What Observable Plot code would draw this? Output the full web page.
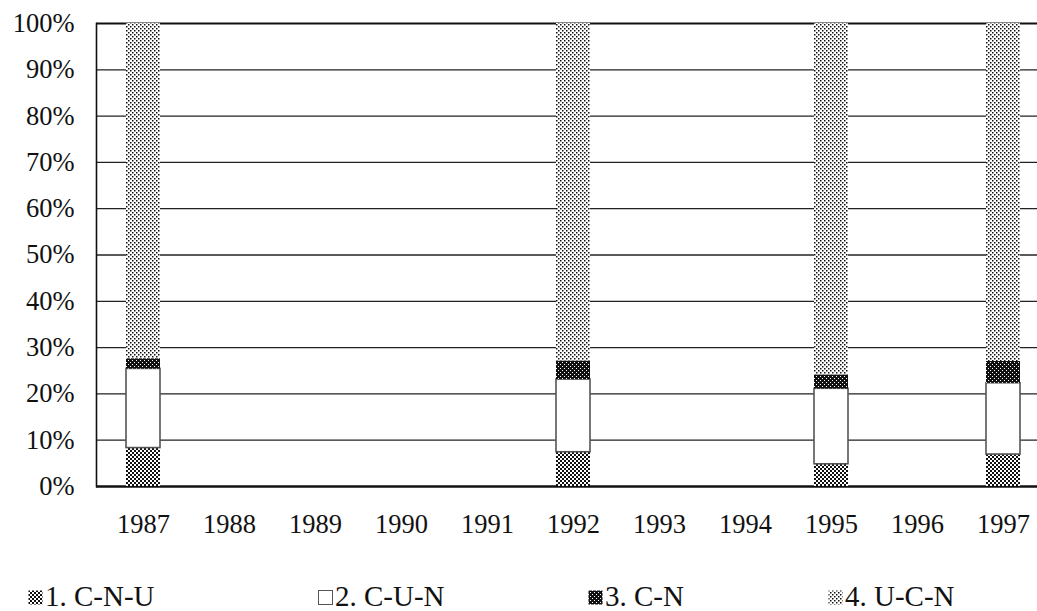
<!DOCTYPE html>
<html>
<head>
<meta charset="utf-8">
<script src="https://cdn.jsdelivr.net/npm/d3@7"></script>
<script src="https://cdn.jsdelivr.net/npm/@observablehq/plot@0.6"></script>
<style>
  html, body { margin: 0; padding: 0; background: white; overflow: hidden; }
  #wrap { position: relative; width: 1037px; height: 611px; font-family: "Liberation Serif", "Times New Roman", serif; }
  .leg { position: absolute; top: 581px; height: 30px; font-size: 29px; line-height: 30px; white-space: nowrap; color: #111; }
  .leg svg { position: absolute; left: 0; top: 9px; }
  .leg span { position: absolute; left: 17px; top: 0; }
</style>
</head>
<body>
<svg width="0" height="0" style="position:absolute">
  <defs>
    <pattern id="p1" width="4" height="4" patternUnits="userSpaceOnUse">
      <rect width="4" height="4" fill="white"/>
      <rect width="2" height="2" fill="#111"/>
      <rect x="2" y="2" width="2" height="2" fill="#111"/>
    </pattern>
    <pattern id="p2" width="4" height="4" patternUnits="userSpaceOnUse">
      <rect width="4" height="4" fill="white"/>
    </pattern>
    <pattern id="p3" width="4" height="4" patternUnits="userSpaceOnUse">
      <rect width="4" height="4" fill="#111"/>
      <rect width="1" height="1" fill="white"/>
      <rect x="2" y="2" width="1" height="1" fill="white"/>
    </pattern>
    <pattern id="p4" width="4" height="4" patternUnits="userSpaceOnUse">
      <rect width="4" height="4" fill="white"/>
      <rect width="1.5" height="1.5" fill="#111"/>
      <rect x="2" y="2" width="1.5" height="1.5" fill="#111"/>
    </pattern>
  </defs>
</svg>
<div id="wrap"></div>
<script>
// ---- data ----
const years = ["1987","1988","1989","1990","1991","1992","1993","1994","1995","1996","1997"];
const dataYears = ["1987","1992","1995","1997"];
const seriesNames = ["1. C-N-U","2. C-U-N","3. C-N","4. U-C-N"];
const cnu = [8.3, 7.4, 4.8, 6.9];
const cun = [17.1, 15.7, 16.3, 15.4];
const cn  = [2.2, 4.0, 3.0, 4.7];
const ucn = [72.4, 72.9, 75.9, 73.0];
const yTickValues = [0,10,20,30,40,50,60,70,80,90,100];

const seriesValues = [cnu, cun, cn, ucn];
const patterns = ["url(#p1)", "url(#p2)", "url(#p3)", "url(#p4)"];

// stacked table
const rows = [];
dataYears.forEach((yr, i) => {
  let acc = 0;
  seriesValues.forEach((vals, s) => {
    rows.push({year: yr, series: seriesNames[s], s, y1: acc, y2: acc + vals[i]});
    acc += vals[i];
  });
});

const barMarks = seriesNames.map((name, s) =>
  Plot.barY(rows.filter(r => r.s === s), {
    x: "year", y1: "y1", y2: "y2",
    fill: patterns[s],
    stroke: s === 1 ? "#555" : "none",
    strokeWidth: s === 1 ? 1.6 : 0
  })
);

const chart = Plot.plot({
  width: 1037,
  height: 545,
  marginLeft: 96,
  marginRight: -14,
  marginTop: 23,
  marginBottom: 59,
  style: {fontFamily: "Liberation Serif, Times New Roman, serif", fontSize: "26.5px", color: "#111", background: "white", overflow: "visible"},
  x: {domain: years, paddingInner: 0.6, paddingOuter: 0.3, label: null, tickSize: 0, tickPadding: 28},
  y: {domain: [0, 100], label: null, ticks: yTickValues, tickFormat: d => d + "%", tickSize: 0, tickPadding: 22},
  marks: [
    Plot.ruleY(yTickValues.slice(1, -1), {stroke: "#222", strokeWidth: 1.3}),
    Plot.ruleY([100], {stroke: "#111", strokeWidth: 2.2}),
    Plot.ruleY([0], {stroke: "#111", strokeWidth: 2.4}),
    Plot.frame({anchor: "left", stroke: "#111", strokeWidth: 1.6}),
    ...barMarks
  ]
});

const wrap = document.getElementById("wrap");
wrap.appendChild(chart);

// legend
const legendX = [28, 318, 588, 828];
seriesNames.forEach((name, s) => {
  const div = document.createElement("div");
  div.className = "leg";
  div.style.left = legendX[s] + "px";
  div.innerHTML = `<svg width="15" height="15"><rect x="0.5" y="0.5" width="14" height="14" fill="${patterns[s]}" stroke="${s === 1 ? '#555' : 'none'}" stroke-width="1"/></svg><span>${name}</span>`;
  wrap.appendChild(div);
});
</script>
</body>
</html>
